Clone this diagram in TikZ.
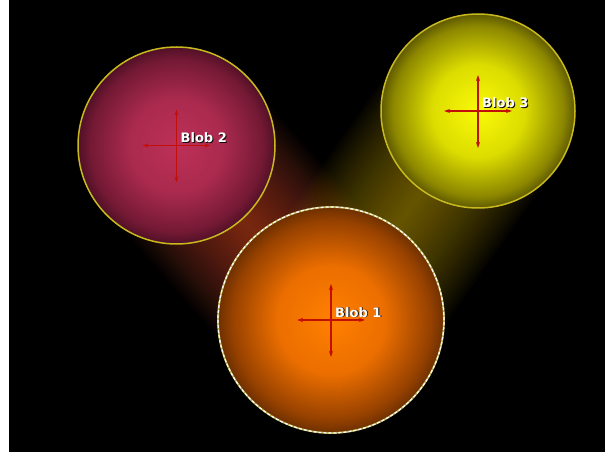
\documentclass[tikz,border=0pt]{standalone}
\usepackage{fontspec}
\newfontfamily\blobfont{DejaVu Sans}
\usetikzlibrary{arrows.meta}
\definecolor{rimyellow}{RGB}{200,185,30}
\definecolor{rimpale}{RGB}{190,180,90}
\definecolor{crossred}{RGB}{195,15,10}
\definecolor{glowred}{RGB}{220,85,50}
\definecolor{glowolive}{RGB}{190,160,0}
\definecolor{shadowcol}{RGB}{20,10,10}
\pgfdeclareradialshading{shadeone}{\pgfpoint{0bp}{0bp}}{color(0bp)=(rgb,255:red,255;green,128;blue,0); color(12bp)=(rgb,255:red,235;green,110;blue,0); color(22bp)=(rgb,255:red,150;green,65;blue,0); color(25bp)=(rgb,255:red,110;green,48;blue,0); color(50bp)=(rgb,255:red,110;green,48;blue,0)}
\pgfdeclareradialshading{shadetwo}{\pgfpoint{0bp}{0bp}}{color(0bp)=(rgb,255:red,190;green,48;blue,88); color(12bp)=(rgb,255:red,170;green,42;blue,78); color(22bp)=(rgb,255:red,115;green,25;blue,52); color(25bp)=(rgb,255:red,80;green,16;blue,38); color(50bp)=(rgb,255:red,80;green,16;blue,38)}
\pgfdeclareradialshading{shadethree}{\pgfpoint{0bp}{0bp}}{color(0bp)=(rgb,255:red,250;green,250;blue,10); color(12bp)=(rgb,255:red,220;green,220;blue,0); color(22bp)=(rgb,255:red,140;green,135;blue,0); color(25bp)=(rgb,255:red,95;green,90;blue,0); color(50bp)=(rgb,255:red,95;green,90;blue,0)}
\tikzset{
  blobdisc/.style={circle, inner sep=0pt, outer sep=0pt},
  blobrim/.style={draw=rimyellow, line width=1.5pt},
  crossarrow/.style={draw=crossred, line width=1.3pt, -{Stealth[length=6pt,width=4pt]}},
  bloblabel/.style={inner sep=0pt, anchor=base west, text=white, font=\blobfont\bfseries\fontsize{13}{15}\selectfont},
  blobshadow/.style={bloblabel, text=shadowcol},
  glowband/.style={line cap=round, opacity=0.028}
}
\begin{document}
\begin{tikzpicture}[x=1pt,y=-1pt]
\useasboundingbox (0,0) rectangle (605,454);
\fill[white] (0,0) rectangle (605,454);
\fill[black] (9,0) rectangle (605,452);
\coordinate (c1) at (331,320);
\coordinate (c2) at (176.5,145.5);
\coordinate (c3) at (478,111);
% glow between blobs
\foreach \w in {6,12,...,192} {
  \draw[glowband, draw=glowred, line width=\w pt] (c2) -- (c1);
  \draw[glowband, draw=glowolive, line width=\w pt] (c3) -- (c1);
}
% blobs
\node[blobdisc, minimum size=197pt, shading=shadetwo] (b2) at (c2) {};
\draw[blobrim] (b2.center) circle[radius=98.5pt];
\node[blobdisc, minimum size=194pt, shading=shadethree] (b3) at (c3) {};
\draw[blobrim] (b3.center) circle[radius=97pt];
\node[blobdisc, minimum size=226pt, shading=shadeone] (b1) at (c1) {};
\draw[draw=rimpale, line width=1.8pt] (b1.center) circle[radius=113pt];
\draw[draw=white, line width=1.2pt, dash pattern=on 3pt off 2pt] (b1.center) circle[radius=113pt];
% crosses
\foreach \b in {b1,b2,b3} {
  \draw[crossarrow] (\b.center) -- ++(-34,0);
  \draw[crossarrow] (\b.center) -- ++(34,0);
  \draw[crossarrow] (\b.center) -- ++(0,-36);
  \draw[crossarrow] (\b.center) -- ++(0,37);
}
% labels
\node[blobshadow] (s1) at ([shift={(5,-2)}]b1.center) {Blob 1};
\node[bloblabel] (t1) at ([shift={(4,-3)}]b1.center) {Blob 1};
\node[blobshadow] (s2) at ([shift={(5,-2)}]b2.center) {Blob 2};
\node[bloblabel] (t2) at ([shift={(4,-3)}]b2.center) {Blob 2};
\node[blobshadow] (s3) at ([shift={(5,-2)}]b3.center) {Blob 3};
\node[bloblabel] (t3) at ([shift={(4,-3)}]b3.center) {Blob 3};
\end{tikzpicture}
\end{document}
